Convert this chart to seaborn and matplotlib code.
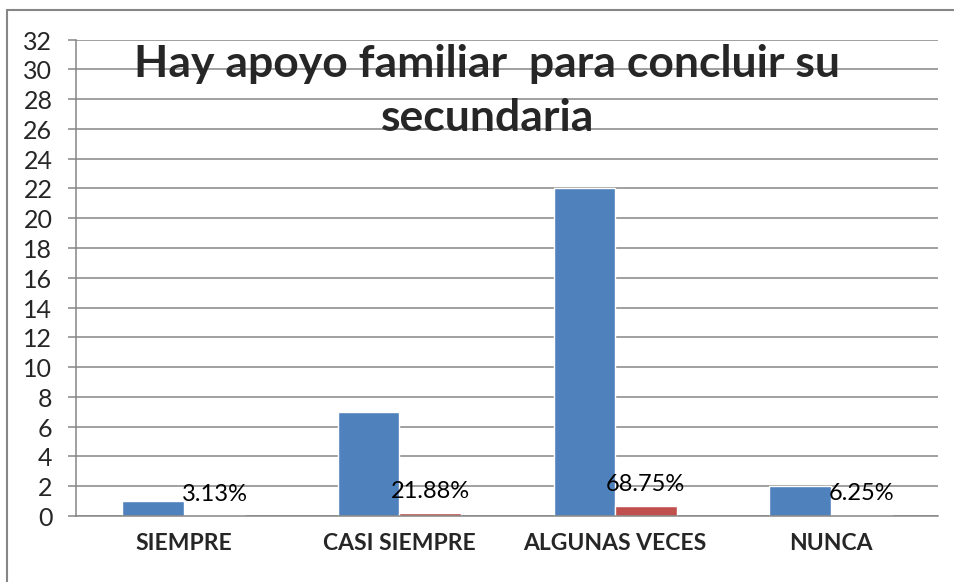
import matplotlib
matplotlib.use("Agg")
import matplotlib.pyplot as plt
import seaborn as sns
import pandas as pd

CATEGORIES = ['SIEMPRE', 'CASI SIEMPRE', 'ALGUNAS VECES', 'NUNCA']
FRECUENCIA = [1, 7, 22, 2]
PORCENTAJE = [0.0313, 0.2188, 0.6875, 0.0625]
PCT_LABELS = ['3.13%', '21.88%', '68.75%', '6.25%']
Y_TICKS = list(range(0, 33, 2))
TITLE = "Hay apoyo familiar  para concluir su\nsecundaria"

BLUE = '#4F81BD'
RED = '#C0504D'
GRID = '#868686'

df = pd.DataFrame({
    'categoria': CATEGORIES * 2,
    'serie': ['Frecuencia'] * len(CATEGORIES) + ['Porcentaje'] * len(CATEGORIES),
    'valor': FRECUENCIA + PORCENTAJE,
})

sns.set_style("white")
plt.rcParams['font.family'] = ['Lato', 'DejaVu Sans']

fig = plt.figure(figsize=(9.545, 5.825), dpi=100)
ax = fig.add_axes([76 / 954, 1 - 516 / 582, (938 - 76) / 954, (516 - 40) / 582])

sns.barplot(data=df, x='categoria', y='valor', hue='serie', order=CATEGORIES,
            palette=[BLUE, RED], width=0.57, errorbar=None, saturation=1,
            legend=False, ax=ax)

ax.bar_label(ax.containers[1], labels=PCT_LABELS, padding=8, fontsize=17, color='black')

ax.set_ylim(0, 32)
ax.set_yticks(Y_TICKS)
ax.set_xlabel('')
ax.set_ylabel('')
ax.yaxis.grid(True, color=GRID, linewidth=1.1)
ax.xaxis.grid(False)
ax.set_axisbelow(True)
sns.despine(ax=ax)
for s in ['left', 'bottom']:
    ax.spines[s].set_color(GRID)
    ax.spines[s].set_linewidth(1.1)

ax.tick_params(axis='y', length=6, width=1.1, color=GRID, pad=11, labelsize=18, left=True, right=False)
ax.tick_params(axis='x', length=0, pad=12, labelsize=16.5)
for lbl in ax.get_xticklabels():
    lbl.set_fontweight('bold')

fig.text(487 / 954, 1 - 91 / 582, TITLE, ha='center', va='center', fontsize=32,
         fontweight='bold', linespacing=1.4)

# chart border: only its top and left edges fall inside the picture
fig.add_artist(plt.Line2D([7 / 954, 7 / 954], [0, 1 - 10 / 582], color=GRID, linewidth=1.5))
fig.add_artist(plt.Line2D([7 / 954, 1], [1 - 10 / 582, 1 - 10 / 582], color=GRID, linewidth=1.5))

fig.savefig('out.png', dpi=100)
